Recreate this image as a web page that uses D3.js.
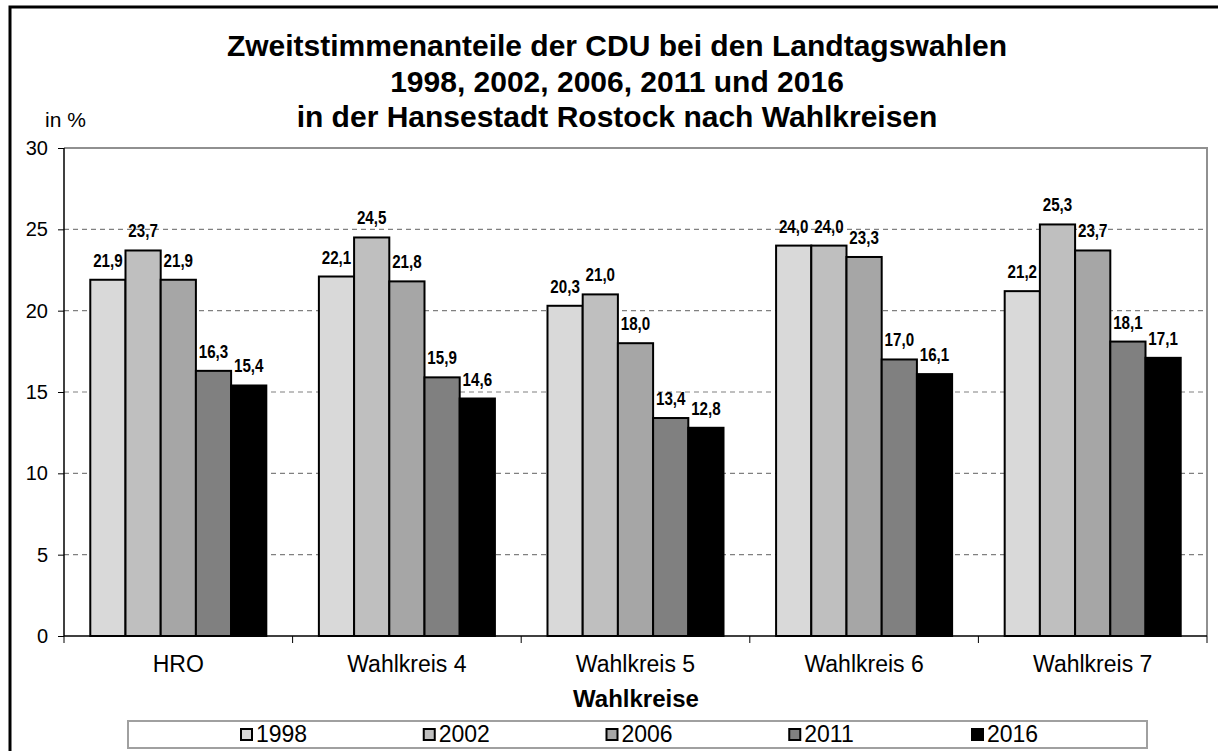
<!DOCTYPE html>
<html>
<head>
<meta charset="utf-8">
<script src="https://cdn.jsdelivr.net/npm/d3@7/dist/d3.min.js"></script>
<style>
  body { margin: 0; background: #fff; }
  svg { display: block; font-family: "Liberation Sans", Arial, sans-serif; }
</style>
</head>
<body>
<svg id="chart" width="1218" height="751"></svg>
<script>
// data
const categories = ["HRO", "Wahlkreis 4", "Wahlkreis 5", "Wahlkreis 6", "Wahlkreis 7"];
const years = ["1998", "2002", "2006", "2011", "2016"];
const v1998 = [21.9, 22.1, 20.3, 24.0, 21.2];
const v2002 = [23.7, 24.5, 21.0, 24.0, 25.3];
const v2006 = [21.9, 21.8, 18.0, 23.3, 23.7];
const v2011 = [16.3, 15.9, 13.4, 17.0, 18.1];
const v2016 = [15.4, 14.6, 12.8, 16.1, 17.1];
const yTicks = [0, 5, 10, 15, 20, 25, 30];

const series = [v1998, v2002, v2006, v2011, v2016];
const colors = ["#d9d9d9", "#bfbfbf", "#a6a6a6", "#808080", "#000000"];

const svg = d3.select("#chart");
const plotLeft = 64, plotRight = 1207, plotTop = 148, plotBottom = 636;

// outer frame (runs off the right and bottom edge)
svg.append("rect")
  .attr("x", 10).attr("y", 7)
  .attr("width", 1230).attr("height", 780)
  .attr("fill", "none").attr("stroke", "#000").attr("stroke-width", 3);

// title
const title = ["Zweitstimmenanteile der CDU bei den Landtagswahlen",
               "1998, 2002, 2006, 2011 und 2016",
               "in der Hansestadt Rostock nach Wahlkreisen"];
svg.append("g").selectAll("text").data(title).enter().append("text")
  .attr("x", 617)
  .attr("y", (d, i) => 56 + i * 35.5)
  .attr("text-anchor", "middle")
  .attr("font-size", 30).attr("font-weight", "bold")
  .text(d => d);

var y = d3.scaleLinear().domain([0, 30]).range([plotBottom, plotTop]);

var x0 = d3.scaleBand().domain(categories).range([plotLeft, plotRight])
  .paddingInner(0.23).paddingOuter(0.115);
var x1 = d3.scaleBand().domain(years).range([0, x0.bandwidth()]);

// grid lines
svg.append("g").selectAll("line")
  .data(yTicks.filter(t => t > 0 && t < 30))
  .enter().append("line")
  .attr("x1", plotLeft).attr("x2", plotRight)
  .attr("y1", d => y(d)).attr("y2", d => y(d))
  .attr("stroke", "#808080").attr("stroke-width", 1.2)
  .attr("stroke-dasharray", "5,4");

// plot border top and right
svg.append("path")
  .attr("d", `M${plotLeft},${plotTop}H${plotRight}V${plotBottom}`)
  .attr("fill", "none").attr("stroke", "#909090").attr("stroke-width", 2);

// bars
const rows = categories.map((c, i) => ({
  cat: c,
  vals: years.map((yr, j) => ({ year: yr, value: series[j][i], color: colors[j] }))
}));

var groups = svg.append("g").selectAll("g").data(rows).enter().append("g")
  .attr("transform", d => `translate(${x0(d.cat)},0)`);

groups.selectAll("rect").data(d => d.vals).enter().append("rect")
  .attr("x", d => x1(d.year))
  .attr("y", d => y(d.value))
  .attr("width", x1.bandwidth())
  .attr("height", d => y(0) - y(d.value))
  .attr("fill", d => d.color)
  .attr("stroke", "#000").attr("stroke-width", 2);

groups.selectAll("text").data(d => d.vals).enter().append("text")
  .attr("transform", d => `translate(${x1(d.year) + x1.bandwidth() / 2},${y(d.value) - 13}) scale(0.82,1)`)
  .attr("text-anchor", "middle")
  .attr("font-size", 18.5).attr("font-weight", "bold")
  .text(d => d.value.toFixed(1).replace(".", ","));

// y axis
var yAxis = svg.append("g")
  .attr("transform", `translate(${plotLeft},0)`)
  .call(d3.axisLeft(y).tickValues(yTicks).tickSize(6).tickPadding(10).tickFormat(d3.format("d")));
yAxis.select(".domain").remove();
yAxis.selectAll(".tick line").attr("stroke", "#000").attr("stroke-width", 1);
yAxis.selectAll(".tick text")
  .attr("font-size", 20).attr("fill", "#000")
  .attr("font-family", "Liberation Sans, Arial, sans-serif");

svg.append("line")
  .attr("x1", plotLeft).attr("x2", plotLeft).attr("y1", plotTop).attr("y2", plotBottom)
  .attr("stroke", "#000").attr("stroke-width", 1.5);

// x axis
svg.append("line")
  .attr("x1", plotLeft).attr("x2", plotRight).attr("y1", plotBottom).attr("y2", plotBottom)
  .attr("stroke", "#000").attr("stroke-width", 1.5);

const boundaries = categories.map(c => x0(c) - x0.step() * x0.paddingInner() / 2)
  .concat([plotRight]);
svg.append("g").selectAll("line").data(boundaries).enter().append("line")
  .attr("x1", d => d).attr("x2", d => d)
  .attr("y1", plotBottom).attr("y2", plotBottom + 7)
  .attr("stroke", "#000").attr("stroke-width", 1);

svg.append("g").selectAll("text").data(categories).enter().append("text")
  .attr("x", d => x0(d) + x0.bandwidth() / 2)
  .attr("y", 672)
  .attr("text-anchor", "middle")
  .attr("font-size", 23)
  .text(d => d);

svg.append("text")
  .attr("x", 636).attr("y", 707)
  .attr("text-anchor", "middle")
  .attr("font-size", 24).attr("font-weight", "bold")
  .text("Wahlkreise");

svg.append("text")
  .attr("x", 45).attr("y", 127)
  .attr("font-size", 21)
  .text("in %");

// legend
svg.append("rect")
  .attr("x", 128).attr("y", 721).attr("width", 1019).attr("height", 27)
  .attr("fill", "#fff").attr("stroke", "#a0a0a0").attr("stroke-width", 2);

const legendX = d3.scalePoint().domain(years).range([240, 971]);
var legend = svg.append("g").selectAll("g").data(years).enter().append("g")
  .attr("transform", d => `translate(${legendX(d)},0)`);
legend.append("rect")
  .attr("x", 1).attr("y", 729).attr("width", 11).attr("height", 11)
  .attr("fill", (d, i) => colors[i]).attr("stroke", "#000").attr("stroke-width", 2);
legend.append("text")
  .attr("x", 16).attr("y", 742)
  .attr("font-size", 23)
  .text(d => d);
</script>
</body>
</html>
